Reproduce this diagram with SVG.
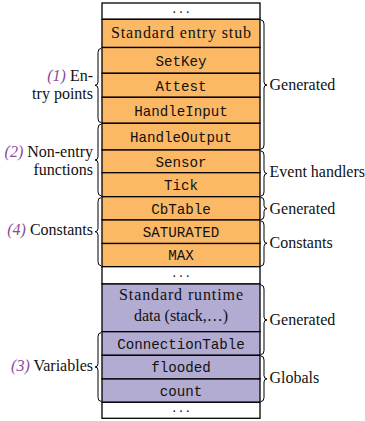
<svg xmlns="http://www.w3.org/2000/svg" width="365" height="421" viewBox="0 0 365 421">
<style>
.row{stroke:#000;stroke-width:1.3}
.o{fill:#FBB865}
.p{fill:#B2ABD2}
.w{fill:#fff}
.serif{font-family:"Liberation Serif","Times New Roman",serif;font-size:16px;fill:#111}
.mono{font-family:"Liberation Mono","DejaVu Sans Mono",monospace;font-size:14.2px;fill:#111;text-anchor:middle}
.c{text-anchor:middle}
.e{text-anchor:end}
.num{font-style:italic;fill:#8A4A9C}
.dots{font-family:"Liberation Serif",serif;font-size:14px;fill:#111;text-anchor:middle;letter-spacing:3.2px}
.brace{fill:none;stroke:#000;stroke-width:1}
</style>
<g id="cells">
<g id="dots-top"><rect class="row w" x="102" y="3" width="158" height="16.3"/><text class="dots" x="182.6" y="13">...</text></g>
<g id="stub"><rect class="row o" x="102" y="19.3" width="158" height="28.2"/><text class="serif c" x="181" y="37.7" textLength="140" lengthAdjust="spacing">Standard entry stub</text></g>
<g id="setkey"><rect class="row o" x="102" y="47.5" width="158" height="25.8"/><text class="mono" x="181" y="65.5">SetKey</text></g>
<g id="attest"><rect class="row o" x="102" y="73.3" width="158" height="24"/><text class="mono" x="181" y="90.5">Attest</text></g>
<g id="handleinput"><rect class="row o" x="102" y="97.3" width="158" height="26"/><text class="mono" x="181" y="115.5">HandleInput</text></g>
<g id="handleoutput"><rect class="row o" x="102" y="123.3" width="158" height="26.7"/><text class="mono" x="181" y="141.8">HandleOutput</text></g>
<g id="sensor"><rect class="row o" x="102" y="150" width="158" height="22.7"/><text class="mono" x="181" y="166.5">Sensor</text></g>
<g id="tick"><rect class="row o" x="102" y="172.7" width="158" height="24"/><text class="mono" x="181" y="190">Tick</text></g>
<g id="cbtable"><rect class="row o" x="102" y="196.7" width="158" height="23.3"/><text class="mono" x="181" y="213.6">CbTable</text></g>
<g id="saturated"><rect class="row o" x="102" y="220" width="158" height="23.5"/><text class="mono" x="181" y="237">SATURATED</text></g>
<g id="max"><rect class="row o" x="102" y="243.5" width="158" height="23.2"/><text class="mono" x="181" y="260.4">MAX</text></g>
<g id="dots-mid"><rect class="row w" x="102" y="266.7" width="158" height="17.3"/><text class="dots" x="182.6" y="277">...</text></g>
<g id="runtime"><rect class="row p" x="102" y="284" width="158" height="47.7"/><text class="serif c" x="181" y="299.5" textLength="124" lengthAdjust="spacing">Standard runtime</text><text class="serif c" x="181" y="320.5">data (stack,…)</text></g>
<g id="connectiontable"><rect class="row p" x="102" y="331.7" width="158" height="23.6"/><text class="mono" x="181" y="348.8">ConnectionTable</text></g>
<g id="flooded"><rect class="row p" x="102" y="355.3" width="158" height="23.7"/><text class="mono" x="181" y="372.4">flooded</text></g>
<g id="count"><rect class="row p" x="102" y="379" width="158" height="23.3"/><text class="mono" x="181" y="395.9">count</text></g>
<g id="dots-bottom"><rect class="row w" x="102" y="402.3" width="158" height="16"/><text class="dots" x="182.6" y="412">...</text></g>
</g>
<g id="braces">
<path class="brace" d="M261,20 Q264,20 264,24 L264,82 Q264,85 267,85 Q264,85 264,88 L264,145 Q264,149 261,149"/>
<path class="brace" d="M261,151 Q264,151 264,155 L264,170 Q264,173.5 267,173.5 Q264,173.5 264,177 L264,192 Q264,196 261,196"/>
<path class="brace" d="M261,197.5 Q264,197.5 264,201 L264,205.5 Q264,208.5 267,208.5 Q264,208.5 264,211.5 L264,216 Q264,219.5 261,219.5"/>
<path class="brace" d="M261,221 Q264,221 264,225 L264,240 Q264,243.3 267,243.3 Q264,243.3 264,246.6 L264,262 Q264,266 261,266"/>
<path class="brace" d="M261,285 Q264,285 264,289 L264,317 Q264,320 267,320 Q264,320 264,323 L264,350.5 Q264,354.5 261,354.5"/>
<path class="brace" d="M261,356 Q264,356 264,360 L264,375.5 Q264,378.8 267,378.8 Q264,378.8 264,382 L264,397.5 Q264,401.5 261,401.5"/>
<path class="brace" d="M101,48.5 Q98,48.5 98,52.5 L98,82 Q98,85.3 95,85.3 Q98,85.3 98,88.6 L98,118.5 Q98,122.5 101,122.5"/>
<path class="brace" d="M101,124.3 Q98,124.3 98,128.3 L98,156.8 Q98,160 95,160 Q98,160 98,163.2 L98,191.7 Q98,195.7 101,195.7"/>
<path class="brace" d="M101,197.7 Q98,197.7 98,201.7 L98,228.5 Q98,231.7 95,231.7 Q98,231.7 98,234.9 L98,261.7 Q98,265.7 101,265.7"/>
<path class="brace" d="M101,332.7 Q98,332.7 98,336.7 L98,363.8 Q98,367 95,367 Q98,367 98,370.2 L98,397.3 Q98,401.3 101,401.3"/>
</g>
<g id="labels">
<text class="serif" x="269.5" y="90">Generated</text>
<text class="serif" x="269.5" y="177">Event handlers</text>
<text class="serif" x="269.5" y="213.5">Generated</text>
<text class="serif" x="269.5" y="247.5">Constants</text>
<text class="serif" x="269.5" y="324.5">Generated</text>
<text class="serif" x="269.5" y="383">Globals</text>
<text class="serif e" x="93" y="81"><tspan class="num">(1)</tspan> En-</text>
<text class="serif e" x="93" y="99">try points</text>
<text class="serif e" x="93" y="157"><tspan class="num">(2)</tspan> Non-entry</text>
<text class="serif e" x="93" y="174.5">functions</text>
<text class="serif e" x="93" y="234.5"><tspan class="num">(4)</tspan> Constants</text>
<text class="serif e" x="93" y="371"><tspan class="num">(3)</tspan> Variables</text>
</g>
</svg>
